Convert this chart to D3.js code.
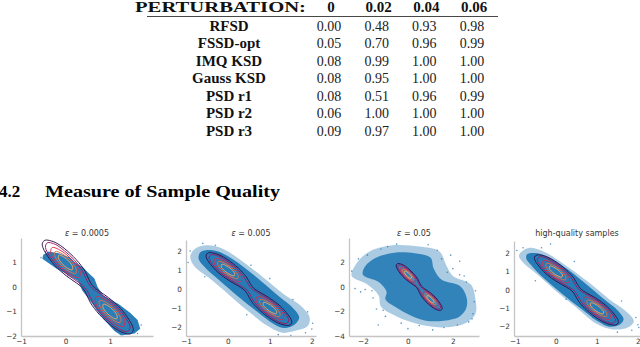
<!DOCTYPE html>
<html lang="en">
<head>
<meta charset="UTF-8">
<title>Perturbation table and sample quality panels</title>
<script src="https://d3js.org/d3.v7.min.js"></script>
<style>
  body { margin: 0; background: #fff; }
  svg { display: block; }
</style>
</head>
<body>
<svg id="chart" width="640" height="347"></svg>
<script>
// ---- table: rejection rate per perturbation ----
const perturbations = ["0", "0.02", "0.04", "0.06"];
const methods = ["RFSD", "FSSD-opt", "IMQ KSD", "Gauss KSD", "PSD r1", "PSD r2", "PSD r3"];
const rfsd     = [0.00, 0.48, 0.93, 0.98];
const fssdOpt  = [0.05, 0.70, 0.96, 0.99];
const imqKsd   = [0.08, 0.99, 1.00, 1.00];
const gaussKsd = [0.08, 0.95, 1.00, 1.00];
const psdR1    = [0.08, 0.51, 0.96, 0.99];
const psdR2    = [0.06, 1.00, 1.00, 1.00];
const psdR3    = [0.09, 0.97, 1.00, 1.00];

// ---- scatter panels: titles, limits, ticks ----
const panelTitles = ["ε = 0.0005", "ε = 0.005", "ε = 0.05", "high-quality samples"];
const xLimits = [[-1, 1.966], [-1, 2.1], [-2.62, 3.16], [-1.02, 2.05]];
const yLimits = [[-2, 2], [-2.47, 2.58], [-4, 4], [-2.51, 2.67]];
const xTickValues = [[-1, 0, 1], [-1, 0, 1, 2], [-2, 0, 2], [-1, 0, 1, 2]];
const yTickValues = [[-2, -1, 0, 1], [-2, -1, 0, 1, 2], [-4, -2, 0, 2], [-2, -1, 0, 1, 2]];

// target density contours (same target in every panel), outer -> inner
const contourL1 = [[-0.46,1.91],[-0.32,1.88],[-0.19,1.78],[-0.03,1.58],[0.24,1.12],[0.44,0.64],[0.53,0.29],[0.61,0.05],
  [0.75,-0.16],[0.97,-0.44],[1.24,-0.88],[1.44,-1.37],[1.51,-1.62],[1.52,-1.79],[1.46,-1.91],[1.32,-1.88],[1.19,-1.78],
  [1.03,-1.58],[0.76,-1.12],[0.56,-0.64],[0.47,-0.29],[0.39,-0.05],[0.25,0.16],[0.03,0.44],[-0.24,0.88],[-0.44,1.37],
  [-0.51,1.62],[-0.52,1.79]];
const contourL2 = [[-0.40,1.81],[-0.27,1.77],[-0.17,1.68],[-0.02,1.47],[0.20,1.10],[0.39,0.62],[0.48,0.27],[0.56,0.03],
  [0.70,-0.18],[0.93,-0.46],[1.20,-0.90],[1.37,-1.30],[1.44,-1.54],[1.45,-1.68],[1.40,-1.81],[1.27,-1.77],[1.17,-1.68],
  [1.02,-1.47],[0.80,-1.10],[0.61,-0.62],[0.52,-0.27],[0.44,-0.03],[0.30,0.18],[0.08,0.46],[-0.20,0.90],[-0.37,1.30],
  [-0.44,1.54],[-0.45,1.68]];
const contourL3a = [[0.30,0.39],[0.33,0.63],[0.16,1.08],[-0.10,1.48],[-0.30,1.61],[-0.33,1.37],[-0.16,0.92],[0.10,0.52]];
const contourL3b = [[1.30,-1.61],[1.33,-1.37],[1.16,-0.92],[0.90,-0.52],[0.70,-0.39],[0.67,-0.63],[0.84,-1.08],[1.10,-1.48]];
const contourL4a = [[0.23,0.55],[0.24,0.72],[0.12,1.06],[-0.08,1.36],[-0.23,1.45],[-0.24,1.28],[-0.12,0.94],[0.08,0.64]];
const contourL4b = [[1.23,-1.45],[1.24,-1.28],[1.12,-0.94],[0.92,-0.64],[0.77,-0.55],[0.76,-0.72],[0.88,-1.06],[1.08,-1.36]];
const contourL5a = [[0.15,0.70],[0.16,0.82],[0.08,1.04],[-0.05,1.24],[-0.15,1.30],[-0.16,1.18],[-0.08,0.96],[0.05,0.76]];
const contourL5b = [[1.15,-1.30],[1.16,-1.18],[1.08,-0.96],[0.95,-0.76],[0.85,-0.70],[0.84,-0.82],[0.92,-1.04],[1.05,-1.24]];

// sample clouds: dense outline, sparse fringe outline, stray points
const cloudCore1 = [[-0.5,1.32],[-0.38,1.45],[-0.15,1.38],[0.1,1.2],[0.22,1.0],[0.4,0.8],[0.5,0.6],[0.65,0.35],[0.72,0.0],
  [0.85,-0.35],[1.2,-0.7],[1.45,-1.05],[1.62,-1.35],[1.68,-1.7],[1.55,-1.9],[1.25,-1.98],[1.1,-1.8],[0.9,-1.4],[0.7,-0.95],
  [0.55,-0.55],[0.38,-0.15],[0.28,0.25],[0.0,0.55],[-0.2,0.75],[-0.4,1.0],[-0.52,1.15]];
const cloudCore2 = [[-0.65,1.95],[-0.4,2.05],[-0.1,1.85],[0.35,1.2],[0.8,0.4],[1.25,-0.45],[1.55,-1.0],[1.7,-1.5],[1.6,-1.85],
  [1.35,-2.05],[1.1,-1.85],[0.7,-1.2],[0.25,-0.4],[-0.2,0.45],[-0.55,1.15],[-0.7,1.6]];
const cloudHalo2 = [[-0.8,2.1],[-0.5,2.3],[-0.1,2.1],[0.35,1.45],[0.85,0.6],[1.35,-0.3],[1.75,-0.9],[1.95,-1.5],[1.9,-1.95],
  [1.6,-2.2],[1.3,-2.3],[0.95,-1.95],[0.5,-1.2],[0.05,-0.35],[-0.4,0.5],[-0.8,1.2],[-0.9,1.7]];
const cloudCore3 = [[-1.9,1.7],[-1.4,2.4],[-0.6,2.8],[0.3,2.75],[1.0,2.4],[1.15,1.5],[1.5,0.6],[2.3,0.1],[2.6,-0.8],[2.6,-1.7],
  [2.3,-2.4],[1.6,-2.75],[0.8,-2.75],[0.1,-2.3],[-0.5,-1.7],[-1.0,-1.0],[-0.95,-0.4],[-1.3,0.4],[-2.0,1.0]];
const cloudHalo3 = [[-2.4,1.6],[-1.8,2.8],[-0.7,3.4],[0.5,3.3],[1.4,2.9],[1.7,1.8],[2.0,0.9],[2.8,0.2],[3.0,-1.0],[3.0,-2.2],
  [2.5,-3.0],[1.5,-3.3],[0.4,-3.0],[-0.5,-2.4],[-1.2,-1.6],[-1.3,-0.7],[-1.8,0.2],[-2.5,0.9]];
const cloudCore4 = [[-0.7,1.95],[-0.45,2.0],[-0.15,1.75],[0.3,1.1],[0.75,0.3],[1.2,-0.55],[1.5,-1.1],[1.65,-1.6],[1.55,-1.9],
  [1.3,-2.0],[1.05,-1.75],[0.6,-1.0],[0.15,-0.2],[-0.3,0.65],[-0.6,1.35],[-0.72,1.7]];
const cloudHalo4 = [[-0.85,2.05],[-0.65,2.3],[-0.3,2.1],[0.2,1.4],[0.75,0.5],[1.3,-0.5],[1.7,-1.15],[1.9,-1.7],[1.75,-2.05],
  [1.4,-2.15],[1.0,-1.85],[0.5,-0.95],[0.0,-0.05],[-0.45,0.85],[-0.8,1.5],[-0.9,1.85]];
const strays1 = [[-0.55,1.2],[1.7,-1.55],[0.05,0.45],[1.62,-1.9],[-0.45,1.45]];
const strays2 = [[2.02,-1.8],[1.85,-2.3],[1.5,-2.45],[-0.9,2.0],[-0.6,2.4],[-0.3,2.3],[1.9,-1.2],[1.0,0.55],[-0.95,1.4],
  [1.2,-2.4],[2.0,-2.1],[0.55,1.25],[0.45,-1.35],[-0.55,0.65],[1.55,-0.55]];
const strays3 = [[-2.35,-0.13],[2.0,1.5],[2.89,-2.19],[-1.32,-3.1],[1.9,2.6],[2.5,0.9],[2.7,-2.85],[-1.4,-1.8],[-1.2,3.1],
  [0.9,3.45],[-0.3,-2.95],[3.0,-0.3],[1.6,-3.3],[-0.5,3.5],[-1.8,2.6],[0.5,-3.15],[-1.55,-0.9],[-2.2,2.3],[2.3,2.1],
  [1.3,3.0],[-2.5,1.3],[2.95,-1.2],[0.0,-3.4],[-1.0,-2.4],[1.75,1.2],[-2.1,-0.4],[2.2,-3.1],[-0.9,3.3],[2.6,0.4],
  [-1.9,-0.2],[1.1,-3.5],[2.85,-2.6],[1.5,2.3],[2.3,1.0],[-1.6,-0.3],[-1.1,-1.9]];
const strays4 = [[-0.13,2.5],[-0.95,2.15],[1.95,-1.5],[1.85,-2.2],[2.0,-1.9],[-0.8,2.3],[0.45,1.55],[1.6,-0.6],[0.9,-1.5],
  [-0.5,0.5],[1.5,-2.3],[0.25,-0.5],[-0.35,2.3],[2.02,-2.05]];

const cores = [cloudCore1, cloudCore2, cloudCore3, cloudCore4];
const halos = [null, cloudHalo2, cloudHalo3, cloudHalo4];
const strays = [strays1, strays2, strays3, strays4];
const contourLoops = [
  [contourL1], [contourL2], [contourL3a, contourL3b], [contourL4a, contourL4b], [contourL5a, contourL5b]
];
const contourColors = ["#33104f", "#9b1a60", "#da2a50", "#ef6b3e", "#f5a468"];

const svg = d3.select("#chart");

// ---------- table ----------
const tableRows = [rfsd, fssdOpt, imqKsd, gaussKsd, psdR1, psdR2, psdR3];
const rowY = d3.scalePoint().domain(methods).range([30.5, 136]);
const colX = d3.scalePoint().domain(perturbations).range([329, 472]);
const labelX = 229;

const table = svg.append("g").attr("fill", "#111");

table.append("text")
    .attr("x", 135).attr("y", 11.7)
    .attr("font-family", "Liberation Serif").attr("font-weight", "bold").attr("font-size", 15)
    .attr("textLength", 171).attr("lengthAdjust", "spacingAndGlyphs")
    .text("PERTURBATION:");

table.selectAll("text.head")
    .data(perturbations)
    .join("text")
    .attr("class", "head")
    .attr("x", d => colX(d) + 2)
    .attr("y", 11.7)
    .attr("text-anchor", "middle")
    .attr("font-family", "Liberation Serif").attr("font-weight", "bold").attr("font-size", 15)
    .text(d => d);

table.append("line")
    .attr("x1", 147).attr("x2", 498)
    .attr("y1", 16.5).attr("y2", 16.5)
    .attr("stroke", "#333").attr("stroke-width", 0.9);

table.selectAll("text.method")
    .data(methods)
    .join("text")
    .attr("class", "method")
    .attr("x", labelX)
    .attr("y", d => rowY(d))
    .attr("text-anchor", "middle")
    .attr("font-family", "Liberation Serif").attr("font-weight", "bold").attr("font-size", 15)
    .text(d => d);

const cells = tableRows.flatMap((row, i) => row.map((v, j) => ({ method: methods[i], col: perturbations[j], v })));
table.selectAll("text.cell")
    .data(cells)
    .join("text")
    .attr("class", "cell")
    .attr("x", d => colX(d.col))
    .attr("y", d => rowY(d.method))
    .attr("text-anchor", "middle")
    .attr("font-family", "Liberation Serif").attr("font-size", 14)
    .attr("fill", "#222")
    .text(d => d3.format(".2f")(d.v));

// ---------- section heading ----------
svg.append("text")
    .attr("x", -1).attr("y", 197)
    .attr("font-family", "Liberation Serif").attr("font-weight", "bold").attr("font-size", 17)
    .text("4.2");
svg.append("text")
    .attr("x", 45).attr("y", 197)
    .attr("font-family", "Liberation Serif").attr("font-weight", "bold").attr("font-size", 17)
    .attr("textLength", 235).attr("lengthAdjust", "spacingAndGlyphs")
    .text("Measure of Sample Quality");

// ---------- scatter panels ----------
const panelLeft = [21, 186, 349, 514];
const panelRight = [153, 316, 479, 640];
const panelTop = [238, 240, 238, 241];
const panelBottom = 336;

panelTitles.forEach((title, i) => {
    const x = d3.scaleLinear().domain(xLimits[i]).range([panelLeft[i], panelRight[i]]);
    const y = d3.scaleLinear().domain(yLimits[i]).range([panelBottom, panelTop[i]]);
    const g = svg.append("g");

    g.append("clipPath").attr("id", "clip" + i)
        .append("rect")
        .attr("x", panelLeft[i]).attr("y", panelTop[i])
        .attr("width", panelRight[i] - panelLeft[i]).attr("height", panelBottom - panelTop[i]);

    const plot = g.append("g").attr("clip-path", `url(#clip${i})`);
    const smooth = d3.line().x(d => x(d[0])).y(d => y(d[1])).curve(d3.curveCatmullRomClosed.alpha(0.5));
    const rough = d3.line().x(d => x(d[0])).y(d => y(d[1])).curve(d3.curveLinearClosed);

    if (halos[i]) {
        plot.append("path").attr("d", smooth(halos[i]))
            .attr("fill", "#1f77b4").attr("fill-opacity", 0.38);
    }
    plot.append("path").attr("d", (i === 0 ? rough : smooth)(cores[i]))
        .attr("fill", "#1f77b4").attr("fill-opacity", i === 2 ? 0.85 : 0.95);
    plot.selectAll("circle")
        .data(strays[i])
        .join("circle")
        .attr("cx", d => x(d[0])).attr("cy", d => y(d[1]))
        .attr("r", 0.8)
        .attr("fill", "#1f77b4").attr("fill-opacity", 0.75);

    contourLoops.forEach((loops, k) => {
        plot.selectAll(null)
            .data(loops)
            .join("path")
            .attr("d", d => smooth(d))
            .attr("fill", "none")
            .attr("stroke", contourColors[k])
            .attr("stroke-width", 0.95);
    });

    const xAxis = g.append("g")
        .attr("transform", `translate(0,${panelBottom})`)
        .call(d3.axisBottom(x).tickValues(xTickValues[i]).tickSize(0).tickPadding(3).tickFormat(d3.format("d")));
    const yAxis = g.append("g")
        .attr("transform", `translate(${panelLeft[i]},0)`)
        .call(d3.axisLeft(y).tickValues(yTickValues[i]).tickSize(0).tickPadding(4).tickFormat(d3.format("d")));

    [xAxis, yAxis].forEach(ax => {
        ax.attr("font-family", "DejaVu Sans").attr("font-size", 7.3);
        ax.select(".domain").attr("stroke", "#c4c4c4").attr("stroke-width", 1.3);
        ax.selectAll(".tick text").attr("fill", "#333");
    });

    const cx = (panelLeft[i] + panelRight[i]) / 2;
    const t = g.append("text")
        .attr("x", cx).attr("y", 236)
        .attr("text-anchor", "middle")
        .attr("font-family", "DejaVu Sans").attr("font-size", 8)
        .attr("fill", "#333");
    if (title.startsWith("ε")) {
        t.append("tspan").attr("font-style", "italic").text("ε");
        t.append("tspan").text(title.slice(1));
    } else {
        t.text(title);
    }
});
</script>
</body>
</html>
